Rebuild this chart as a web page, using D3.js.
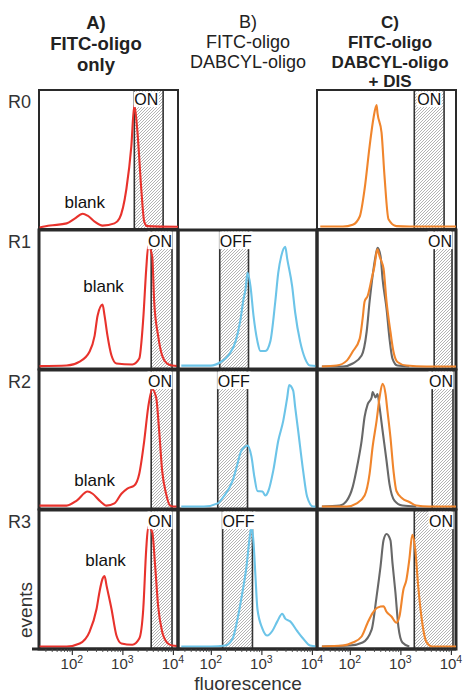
<!DOCTYPE html>
<html><head><meta charset="utf-8">
<script src="https://cdn.jsdelivr.net/npm/d3@7"></script>
<style>body{margin:0;background:#fff} svg{display:block} text{font-family:"Liberation Sans",Arial,Helvetica,sans-serif}</style>
</head><body><svg id="c" width="465" height="693"></svg>
<script>
// ---------- data ----------
const headerA = ["A)", "FITC-oligo", "only"];
const headerB = ["B)", "FITC-oligo", "DABCYL-oligo"];
const headerC = ["C)", "FITC-oligo", "DABCYL-oligo", "+ DIS"];
const rowLabels = ["R0", "R1", "R2", "R3"];
const majorTicks = [100, 1000, 10000];
const tickExponents = ["2", "3", "4"];
const minorTicks = [30, 40, 50, 60, 70, 80, 90, 200, 300, 400, 500, 600, 700, 800, 900, 2000, 3000, 4000, 5000, 6000, 7000, 8000, 9000];
const xDomain = [22.4, 12600];

// [fluorescence, % of max events]
const redR0 = [[23,0],[37,1.4],[79,3],[114,6.5],[164,10],[205,8.6],[282,4.3],[405,1.4],[697,3],[874,6.5],[1200,28],[1503,59],[1722,89],[1972,71],[2365,28],[2706,4.3],[3100,1],[12600,0.5]];
const redR1 = [[23,1],[79,1.4],[143,4.3],[225,11.6],[282,23],[323,37.7],[405,45.7],[444,37.7],[508,23],[609,8.7],[763,2.9],[1574,2.2],[2158,6.5],[2588,35.5],[2965,71.7],[3245,88.4],[3890,81],[4258,47.8],[5100,23],[6110,8.7],[7656,2.9],[9610,1.4],[12600,1]];
const redR2 = [[23,1.4],[79,1.4],[125,5],[205,11.6],[258,10],[353,5],[486,1.4],[697,3],[957,10],[1254,13.8],[1722,16],[2158,24.6],[2706,48.5],[3245,73],[3890,86],[4660,80],[5336,56],[6110,27],[7323,10],[8770,1.4],[10520,0.7],[12600,0.7]];
const redR3 = [[23,0.7],[79,0.7],[143,2.9],[225,11.6],[308,28],[353,40.6],[405,50],[444,52],[486,45],[609,28],[763,8.7],[957,2.9],[1574,2],[2158,6.5],[2588,28],[2965,71.7],[3245,87.7],[3890,84],[4456,59],[5100,30],[6110,11.6],[7656,3.6],[9610,1.4],[12600,1]];
const blueR1 = [[26,1.4],[100,1.4],[157,4],[225,9],[309,19],[387,35],[444,50],[486,57],[532,69],[609,59],[697,38],[835,19],[957,12],[1200,12],[1503,19],[1884,48],[2158,69],[2472,81],[2965,87.7],[3245,79],[4066,59],[4660,40],[5838,19],[7323,6.5],[9183,1.4],[12600,1]];
const blueR2 = [[26,0.7],[73,0.7],[137,3],[179,8],[270,19.5],[338,32],[387,40],[464,44],[532,45],[636,37],[729,22],[835,12],[1047,11.6],[1200,8.7],[1374,12],[1722,27],[2158,48.5],[2706,63],[3245,80],[3548,89],[4258,85],[4660,73],[5336,56],[6683,27],[8017,8],[10520,0.7],[12600,0.7]];
const blueR3 = [[26,0.7],[100,0.7],[196,1.5],[270,6.5],[338,21],[424,40.6],[508,59],[582,79],[636,87.7],[697,77],[763,52],[835,28],[1047,13.8],[1312,8.7],[1644,12],[2063,19],[2588,24.6],[2965,21],[3715,19],[5100,12],[6683,6.5],[9183,1.4],[12600,0.7]];
const orangeR0 = [[26,0.7],[73,0.7],[114,2],[157,8],[196,28],[246,59],[295,80],[338,89],[353,83],[424,69],[486,37],[582,6],[835,1],[1503,0.7],[12600,0.7]];
const orangeR1 = [[28,0.7],[55,1.4],[87,5],[114,11.6],[157,21],[179,35.5],[196,48],[225,52],[270,64.5],[308,74],[338,84],[353,86],[387,81],[424,77],[464,72],[532,48],[636,26],[729,11.6],[874,4],[1312,1.4],[3245,0.7],[12600,0.7]];
const grayR1 = [[28,0.7],[73,0.7],[114,2.9],[171,8.7],[215,26],[246,48],[282,66.7],[323,81],[353,87],[405,81],[444,64.5],[532,42.8],[609,21],[697,6.5],[874,1.4],[1503,0.7]];
const grayR2 = [[28,0.7],[63,1.4],[87,5],[114,15],[143,32],[171,48.5],[196,66],[225,75],[270,80],[282,84],[323,80],[353,82.6],[387,73],[444,56],[532,34],[609,17],[763,5],[1096,1.4],[2063,0.7]];
const orangeR2 = [[28,0.7],[87,0.7],[137,3],[196,8.7],[246,24.6],[282,44],[338,63],[387,80],[444,90],[508,82.6],[556,70],[636,51],[729,27],[835,12],[1096,6.5],[1503,4],[2063,1.4],[3715,0.7],[12600,0.7]];
const grayR3 = [[28,0.7],[100,1.4],[179,3.6],[270,13],[338,37],[405,59],[464,78],[532,82.6],[636,78],[697,61.6],[798,40],[914,15],[1096,3.6],[1503,0.7]];
const orangeR3 = [[28,0.7],[73,1.4],[114,3.6],[171,8],[225,18],[282,25],[353,29],[464,30],[532,26],[666,22.5],[835,18],[957,22.5],[1146,42],[1312,49],[1503,64],[1722,82],[1972,71],[2259,44],[2706,18],[3245,4.3],[4258,0.7],[12600,0.7]];

// gates [from, to]
const gateA0 = [1722, 6400], gateA = [3715, 9600];
const gateB1 = [150, 556], gateB2 = [137, 532], gateB3 = [171, 666];
const gateC0 = [1884, 7323], gateC1 = [4660, 10520], gateC2 = [4258, 11000], gateC3 = [1884, 11000];
// "blank" annotation [fluorescence, %]
const blankR0 = [180, 14.5], blankR1 = [424, 55], blankR2 = [282, 16], blankR3 = [464, 59.4];

// ---------- layout ----------
const RED = "#e8322c", BLUE = "#6cc4e8", ORANGE = "#f0852c", GRAY = "#686868";
const colLeft = [39, 178, 317];
const rowTop = [90, 230, 370, 510];
const W = 139, H = 139;

const panels = [
  {row:0,col:0,curves:[[redR0,RED]],gate:gateA0,label:"ON",align:"start",blank:blankR0,sw:2},
  {row:0,col:2,curves:[[orangeR0,ORANGE]],gate:gateC0,label:"ON",align:"middle",sw:2},
  {row:1,col:0,curves:[[redR1,RED]],gate:gateA,label:"ON",align:"end",blank:blankR1},
  {row:2,col:0,curves:[[redR2,RED]],gate:gateA,label:"ON",align:"end",blank:blankR2},
  {row:3,col:0,curves:[[redR3,RED]],gate:gateA,label:"ON",align:"end",blank:blankR3},
  {row:1,col:1,curves:[[blueR1,BLUE]],gate:gateB1,label:"OFF",align:"start"},
  {row:2,col:1,curves:[[blueR2,BLUE]],gate:gateB2,label:"OFF",align:"start"},
  {row:3,col:1,curves:[[blueR3,BLUE]],gate:gateB3,label:"OFF",align:"start"},
  {row:1,col:2,curves:[[grayR1,GRAY],[orangeR1,ORANGE]],gate:gateC1,label:"ON",align:"end"},
  {row:2,col:2,curves:[[grayR2,GRAY],[orangeR2,ORANGE]],gate:gateC2,label:"ON",align:"end"},
  {row:3,col:2,curves:[[grayR3,GRAY],[orangeR3,ORANGE]],gate:gateC3,label:"ON",align:"end"}
];

const svg = d3.select("#c");
const defs = svg.append("defs");
const pat = defs.append("pattern").attr("id","hatch").attr("patternUnits","userSpaceOnUse").attr("width",3).attr("height",3);
pat.append("rect").attr("width",3).attr("height",3).attr("fill","#fff");
pat.append("path").attr("d","M-0.75,0.75 L0.75,-0.75 M0,3 L3,0 M2.25,3.75 L3.75,2.25").attr("stroke","#9a9a9a").attr("stroke-width",0.75);

// headers
function header(lines, x, ys, weight, size){
  lines.forEach((t,i)=> svg.append("text").attr("x",x).attr("y",ys[i]).attr("text-anchor","middle")
    .attr("font-size",size).attr("font-weight",weight).attr("fill","#222").text(t));
}
header(headerA, 96, [29,50,71], "bold", 18.5);
header(headerB, 248, [28,48,68], "normal", 18);
header(headerC, 390, [28,48,68,87], "bold", 17);

rowLabels.forEach((t,i)=> svg.append("text").attr("x",8).attr("y",rowTop[i]+18).attr("font-size",18).attr("fill","#333").text(t));

panels.forEach((p,i) => {
  const x0 = colLeft[p.col], y0 = rowTop[p.row];
  const x = d3.scaleLog().domain(xDomain).range([x0, x0+W]);
  const y = d3.scaleLinear().domain([0,100]).range([y0+H-1.5, y0]);
  const g = svg.append("g");
  defs.append("clipPath").attr("id","cp"+i).append("rect").attr("x",x0).attr("y",y0).attr("width",W).attr("height",H);
  // gate
  const gx0 = x(p.gate[0]), gx1 = x(p.gate[1]);
  g.append("rect").attr("x",gx0).attr("y",y0).attr("width",gx1-gx0).attr("height",H)
    .attr("fill","url(#hatch)").attr("stroke","#333").attr("stroke-width",1.6);
  // border
  g.append("rect").attr("x",x0).attr("y",y0).attr("width",W).attr("height",H)
    .attr("fill","none").attr("stroke","#2a2a2a").attr("stroke-width",p.sw||3);
  // curves
  const line = d3.line().x(d=>x(d[0])).y(d=>y(d[1])).curve(d3.curveMonotoneX);
  p.curves.forEach(([data,color]) => {
    g.append("path").datum(data).attr("d",line).attr("fill","none").attr("stroke",color)
      .attr("stroke-width",2.1).attr("stroke-linejoin","round").attr("clip-path",`url(#cp${i})`);
  });
  // gate label
  const lx = p.align==="start" ? gx0 : p.align==="end" ? gx1 : (gx0+gx1)/2;
  const ly = y0 + (p.row===0 ? 15 : 17);
  const txt = g.append("text").attr("x",lx).attr("y",ly).attr("text-anchor",p.align)
    .attr("font-size",16).attr("fill","#111").text(p.label);
  const bb = txt.node().getBBox();
  g.insert("rect", () => txt.node()).attr("x",bb.x-0.5).attr("y",y0+1.6).attr("width",bb.width+1).attr("height",ly-y0+0.5).attr("fill","#fff");
  // blank annotation
  if (p.blank) {
    g.append("text").attr("x",x(p.blank[0])).attr("y",y(p.blank[1])).attr("text-anchor","middle")
      .attr("font-size",17).attr("fill","#111").text("blank");
  }
});

// x axes
const axisY = rowTop[3] + H;
svg.append("line").attr("x1",32).attr("x2",colLeft[2]+W).attr("y1",axisY).attr("y2",axisY).attr("stroke","#2a2a2a").attr("stroke-width",3);
colLeft.forEach(x0 => {
  const x = d3.scaleLog().domain(xDomain).range([x0, x0+W]);
  const ga = svg.append("g").attr("transform",`translate(0,${axisY})`)
    .call(d3.axisBottom(x).tickValues(majorTicks).tickSize(6).tickSizeOuter(0).tickFormat(""));
  ga.select(".domain").remove();
  ga.selectAll("line").attr("stroke","#333").attr("stroke-width",1.2);
  const gm = svg.append("g").attr("transform",`translate(0,${axisY})`)
    .call(d3.axisBottom(x).tickValues(minorTicks).tickSize(3).tickSizeOuter(0).tickFormat(""));
  gm.select(".domain").remove();
  gm.selectAll("line").attr("stroke","#444").attr("stroke-width",0.9);
  majorTicks.forEach((v,k) => {
    const t = svg.append("text").attr("x",x(v)).attr("y",axisY+20).attr("text-anchor","middle").attr("fill","#333");
    t.append("tspan").attr("font-size",15).text("10");
    t.append("tspan").attr("font-size",10.5).attr("dy",-6).text(tickExponents[k]);
  });
});

svg.append("text").attr("x",248).attr("y",690).attr("text-anchor","middle").attr("font-size",19).attr("fill","#333").text("fluorescence");
svg.append("text").attr("transform","translate(32,610) rotate(-90)").attr("text-anchor","middle").attr("font-size",19).attr("fill","#333").text("events");
</script></body></html>
